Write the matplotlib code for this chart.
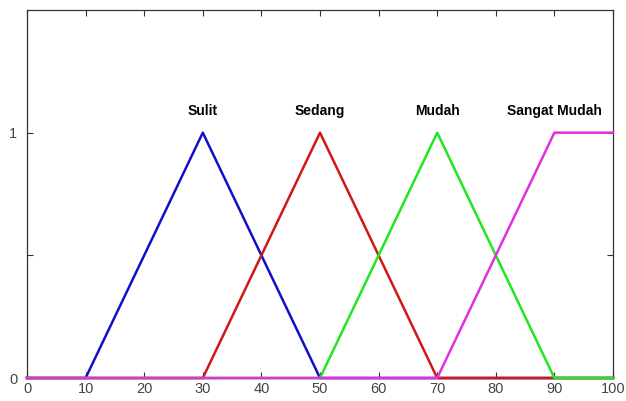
import numpy as np
import matplotlib.pyplot as plt

plt.rcParams['font.family'] = ['Liberation Sans', 'DejaVu Sans']

# membership functions over the input range 0..100
x_range = [0, 100]
mf_names = ['Sulit', 'Sedang', 'Mudah', 'Sangat Mudah']
mf_x = [
    [0, 10, 30, 50, 100],
    [0, 30, 50, 70, 100],
    [0, 50, 70, 90, 100],
    [0, 70, 90, 100],
]
mf_y = [
    [0, 0, 1, 0, 0],
    [0, 0, 1, 0, 0],
    [0, 0, 1, 0, 0],
    [0, 0, 1, 1],
]
label_x = [30, 50, 70, 90]
mf_colors = ['#1010c8', '#d01818', '#22e622', '#e030e0']

fig = plt.figure(figsize=(6.26, 4.01), dpi=100)
ax = fig.add_axes([27 / 626, 23 / 401, 586 / 626, 368 / 401])

for xs, ys, c in zip(mf_x, mf_y, mf_colors):
    ax.plot(xs, ys, color=c, linewidth=1.8, clip_on=False, zorder=3)

for name, lx in zip(mf_names, label_x):
    ax.text(lx, 1.09, name, ha='center', va='center', fontsize=10,
            fontweight='bold', color='black')

ax.set_xlim(x_range)
ax.set_ylim(0, 1.5)
ax.set_xticks(np.arange(0, 101, 10))
ax.set_yticks([0, 0.5, 1])
ax.set_yticklabels(['0', '', '1'])
ax.tick_params(direction='in', top=True, right=True, length=4, width=0.8,
               color='#333333', labelsize=10.5, labelcolor='#444444', pad=3)
ax.tick_params(axis='y', pad=7)
for s in ax.spines.values():
    s.set_color('#333333')
    s.set_linewidth(0.9)

fig.savefig('out.png', dpi=100)
